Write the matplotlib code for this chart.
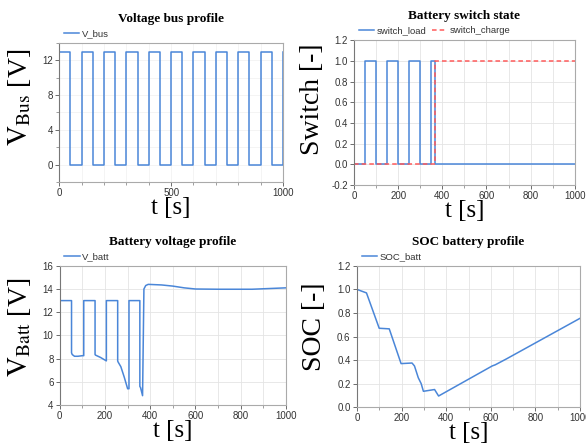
import numpy as np
import matplotlib.pyplot as plt
from matplotlib.ticker import MultipleLocator

# ---- data ----
t_bus = [0, 50, 100, 150, 200, 250, 300, 350, 400, 450, 500, 550, 600, 650,
         700, 750, 800, 850, 900, 950, 1000]
v_bus = [13, 0, 13, 0, 13, 0, 13, 0, 13, 0, 13, 0, 13, 0, 13, 0, 13, 0, 13, 0, 13]

t_load = [0, 50, 100, 150, 200, 250, 300, 350, 365, 680, 1000]
sw_load = [0, 1, 0, 1, 0, 1, 0, 1, 0, 0.005, 0.005]
t_charge = [0, 365, 1000]
sw_charge = [0, 1, 1]

t_batt = [0, 0, 52, 52, 55, 65, 80, 100, 106, 106, 156, 156, 158, 180, 206, 206,
          256, 256, 258, 270, 285, 300, 306, 306, 354, 354, 357, 366, 372, 380,
          391, 450, 500, 550, 600, 700, 850, 900, 1000]
v_batt = [16, 13, 13, 8.5, 8.35, 8.2, 8.2, 8.25, 8.25, 13, 13, 8.35, 8.3, 8.1,
          7.8, 13, 13, 7.8, 7.7, 7.3, 6.4, 5.4, 5.4, 13, 13, 5.6, 5.5, 4.8, 14.0,
          14.3, 14.4, 14.35, 14.25, 14.1, 14.0, 13.98, 13.98, 14.02, 14.1]

t_soc = [0, 43, 100, 145, 198, 247, 258, 275, 288, 298, 348, 366, 606, 620, 670, 1000]
soc = [1.0, 0.97, 0.67, 0.665, 0.37, 0.375, 0.35, 0.25, 0.2, 0.135, 0.15, 0.095,
       0.35, 0.36, 0.41, 0.755]

BLUE = '#4a86d8'
RED = '#ff5a5a'

plt.rcParams['mathtext.fontset'] = 'stix'
plt.rcParams['font.family'] = 'Liberation Sans'

fig = plt.figure(figsize=(5.86, 4.46), dpi=100)
ax1 = fig.add_axes([0.101, 0.592, 0.382, 0.312])
ax2 = fig.add_axes([0.604, 0.585, 0.377, 0.325])
ax3 = fig.add_axes([0.102, 0.092, 0.386, 0.312])
ax4 = fig.add_axes([0.609, 0.087, 0.381, 0.317])


def style(ax, title, ylabel, ylab_xy, grid_col='#e4e4e4'):
    ax.set_title(title, family='Liberation Serif', fontweight='bold', fontsize=9.5, pad=15)
    ax.set_ylabel(ylabel, family='Liberation Serif', fontsize=20)
    ax.yaxis.set_label_coords(*ylab_xy)
    ax.set_xlabel('t [s]', family='Liberation Serif', fontsize=18, labelpad=-1)
    ax.set_xlim(0, 1000)
    ax.xaxis.set_minor_locator(MultipleLocator(100))
    for s in ax.spines.values():
        s.set_color('#aaaaaa')
        s.set_linewidth(0.8)
    ax.spines['left'].set_color('#777777')
    ax.tick_params(labelsize=7, colors='#555555', labelcolor='#333333',
                   length=3, width=0.6, pad=1.5)
    ax.tick_params(which='minor', length=2, width=0.5, colors='#777777')
    ax.grid(True, which='both', color=grid_col, linewidth=0.6)
    ax.set_axisbelow(True)
    leg = ax.legend(loc='lower left', bbox_to_anchor=(0.0, 1.0), frameon=False,
                    ncol=2, fontsize=6.8, handlelength=1.6, handletextpad=0.3,
                    columnspacing=0.6, borderpad=0.1, borderaxespad=0.4)
    for txt in leg.get_texts():
        txt.set_color('#333333')


ax1.plot(t_bus, v_bus, color=BLUE, lw=1.1, drawstyle='steps-post', label='V_bus')
ax1.set_ylim(-2, 14)
ax1.yaxis.set_major_locator(MultipleLocator(4))
ax1.yaxis.set_minor_locator(MultipleLocator(2))
ax1.xaxis.set_major_locator(MultipleLocator(500))
style(ax1, 'Voltage bus profile', r'$\mathrm{V}_{\mathrm{Bus}}$ [V]', (-0.115, 0.61),
      grid_col='#f3f3f3')

ax2.plot(t_load, sw_load, color=BLUE, lw=1.1, drawstyle='steps-post', label='switch_load')
ax2.plot(t_charge, sw_charge, color=RED, lw=1.1, ls=(0, (3, 2)), drawstyle='steps-post',
         label='switch_charge')
ax2.set_ylim(-0.2, 1.2)
ax2.yaxis.set_major_locator(MultipleLocator(0.2))
ax2.xaxis.set_major_locator(MultipleLocator(200))
style(ax2, 'Battery switch state', 'Switch [-]', (-0.13, 0.59))

ax3.plot(t_batt, v_batt, color=BLUE, lw=1.1, label='V_batt')
ax3.set_ylim(4, 16)
ax3.yaxis.set_major_locator(MultipleLocator(2))
ax3.xaxis.set_major_locator(MultipleLocator(200))
style(ax3, 'Battery voltage profile', r'$\mathrm{V}_{\mathrm{Batt}}$ [V]', (-0.12, 0.56))

ax4.plot(t_soc, soc, color=BLUE, lw=1.1, label='SOC_batt')
ax4.set_ylim(0, 1.2)
ax4.yaxis.set_major_locator(MultipleLocator(0.2))
ax4.xaxis.set_major_locator(MultipleLocator(200))
style(ax4, 'SOC battery profile', 'SOC [-]', (-0.135, 0.57))

for ax in (ax2, ax4):
    ax.yaxis.set_major_formatter(plt.FormatStrFormatter('%.1f'))

fig.savefig('out.png', dpi=100)
